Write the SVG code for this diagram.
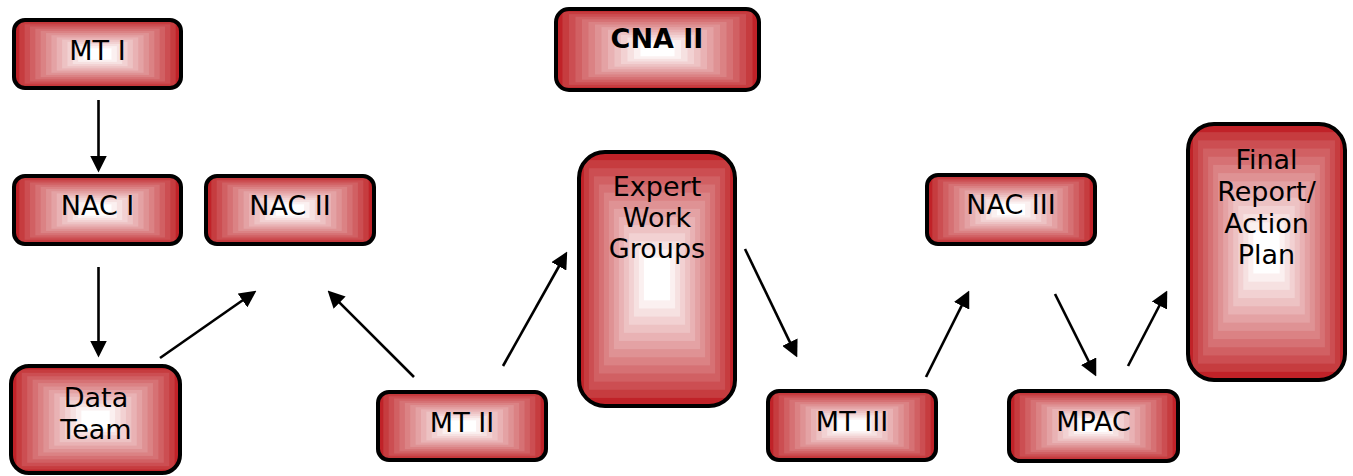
<svg xmlns="http://www.w3.org/2000/svg" width="1353" height="476" viewBox="0 0 1353 476">
  <style>
    .box { fill: url(#rectGrad); stroke: #000; stroke-width: 4; }
    .lbl { font-family: "DejaVu Sans", Verdana, sans-serif; font-size: 27px; fill: #000; text-anchor: middle; }
    .bold { font-weight: bold; }
    .link { stroke: #000; stroke-width: 2.6; fill: none; marker-end: url(#arrow); }
  </style>
  <defs>
    <!-- concentric bands: red rim fading to a white centre, stretched to each box -->
    <pattern id="rectGrad" patternUnits="objectBoundingBox" patternContentUnits="objectBoundingBox" x="0" y="0" width="1" height="1">
      <rect x="0" y="0" width="1" height="1" fill="rgb(192,34,40)"/>
      <rect x="0.032" y="0.032" width="0.936" height="0.936" fill="rgb(198,60,63)"/>
      <rect x="0.064" y="0.064" width="0.872" height="0.872" fill="rgb(204,78,82)"/>
      <rect x="0.096" y="0.096" width="0.808" height="0.808" fill="rgb(209,96,99)"/>
      <rect x="0.128" y="0.128" width="0.744" height="0.744" fill="rgb(214,113,116)"/>
      <rect x="0.16" y="0.16" width="0.68" height="0.68" fill="rgb(219,130,132)"/>
      <rect x="0.192" y="0.192" width="0.616" height="0.616" fill="rgb(223,146,148)"/>
      <rect x="0.224" y="0.224" width="0.552" height="0.552" fill="rgb(228,162,164)"/>
      <rect x="0.256" y="0.256" width="0.488" height="0.488" fill="rgb(233,178,180)"/>
      <rect x="0.288" y="0.288" width="0.424" height="0.424" fill="rgb(237,194,195)"/>
      <rect x="0.32" y="0.32" width="0.36" height="0.36" fill="rgb(242,209,210)"/>
      <rect x="0.352" y="0.352" width="0.296" height="0.296" fill="rgb(246,225,225)"/>
      <rect x="0.384" y="0.384" width="0.232" height="0.232" fill="rgb(251,240,240)"/>
      <rect x="0.416" y="0.416" width="0.168" height="0.168" fill="rgb(255,255,255)"/>
    </pattern>
    <marker id="arrow" markerUnits="userSpaceOnUse" markerWidth="17" markerHeight="17" viewBox="0 0 15 15" refX="11" refY="7.5" orient="auto">
      <path d="M0,0 L15,7.5 L0,15 Z" fill="#000"/>
    </marker>
  </defs>

  <g id="connectors">
    <line class="link" x1="98.5" y1="100" x2="98.5" y2="168"/>
    <line class="link" x1="98.5" y1="267" x2="98.5" y2="353"/>
    <line class="link" x1="160" y1="358" x2="252.7" y2="293.3"/>
    <line class="link" x1="414" y1="377" x2="330.8" y2="293.8"/>
    <line class="link" x1="503" y1="366" x2="565" y2="255.5"/>
    <line class="link" x1="745" y1="249" x2="795.3" y2="353.4"/>
    <line class="link" x1="926" y1="377" x2="967.2" y2="294.6"/>
    <line class="link" x1="1055" y1="294" x2="1094.2" y2="372.4"/>
    <line class="link" x1="1128" y1="366" x2="1165.2" y2="294.5"/>
  </g>

  <g id="mt1">
    <rect class="box" x="14" y="20" width="167" height="68" rx="11"/>
    <text class="lbl" x="97.5" y="60">MT I</text>
  </g>
  <g id="cna2">
    <rect class="box" x="556" y="9" width="203" height="81" rx="13"/>
    <text class="lbl bold" x="657" y="48">CNA II</text>
  </g>
  <g id="nac1">
    <rect class="box" x="14" y="176" width="167" height="68" rx="11"/>
    <text class="lbl" x="97.5" y="215">NAC I</text>
  </g>
  <g id="nac2">
    <rect class="box" x="206" y="176" width="168" height="68" rx="11"/>
    <text class="lbl" x="290" y="215">NAC II</text>
  </g>
  <g id="dataTeam">
    <rect class="box" x="11" y="366" width="169" height="107" rx="18"/>
    <text class="lbl" x="96" y="407">Data</text>
    <text class="lbl" x="96" y="439">Team</text>
  </g>
  <g id="expertGroups">
    <rect class="box" x="579" y="152" width="156" height="254" rx="26"/>
    <text class="lbl" x="657" y="196">Expert</text>
    <text class="lbl" x="657" y="227">Work</text>
    <text class="lbl" x="657" y="258">Groups</text>
  </g>
  <g id="mt2">
    <rect class="box" x="378" y="392" width="168" height="68" rx="11"/>
    <text class="lbl" x="462" y="432">MT II</text>
  </g>
  <g id="mt3">
    <rect class="box" x="768" y="391" width="168" height="69" rx="11"/>
    <text class="lbl" x="852" y="431">MT III</text>
  </g>
  <g id="nac3">
    <rect class="box" x="927" y="175" width="168" height="69" rx="11"/>
    <text class="lbl" x="1011" y="214">NAC III</text>
  </g>
  <g id="mpac">
    <rect class="box" x="1009" y="391" width="169" height="70" rx="11"/>
    <text class="lbl" x="1093.5" y="431">MPAC</text>
  </g>
  <g id="finalReport">
    <rect class="box" x="1188" y="124" width="157" height="256" rx="26"/>
    <text class="lbl" x="1266.5" y="169">Final</text>
    <text class="lbl" x="1266.5" y="201">Report/</text>
    <text class="lbl" x="1266.5" y="233">Action</text>
    <text class="lbl" x="1266.5" y="264">Plan</text>
  </g>
</svg>
